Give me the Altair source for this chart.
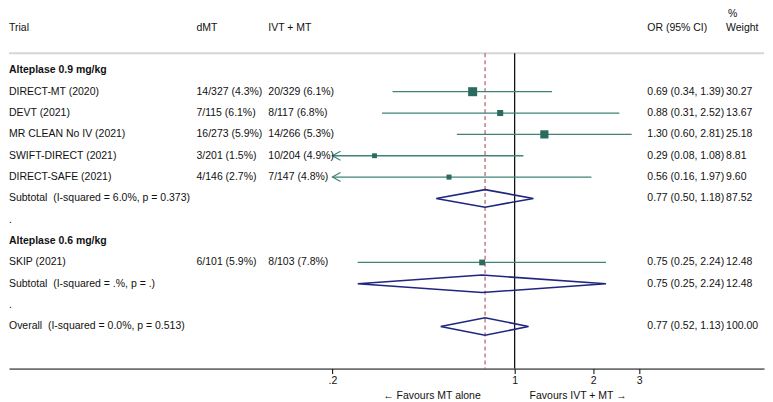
import altair as alt
import pandas as pd

# ---------------- data ----------------
trials = ["DIRECT-MT (2020)", "DEVT (2021)", "MR CLEAN No IV (2021)",
          "SWIFT-DIRECT (2021)", "DIRECT-SAFE (2021)", "SKIP (2021)"]
trial_rows = [1, 2, 3, 4, 5, 9]
dmt_events = ["14/327 (4.3%)", "7/115 (6.1%)", "16/273 (5.9%)",
              "3/201 (1.5%)", "4/146 (2.7%)", "6/101 (5.9%)"]
ivt_events = ["20/329 (6.1%)", "8/117 (6.8%)", "14/266 (5.3%)",
              "10/204 (4.9%)", "7/147 (4.8%)", "8/103 (7.8%)"]
or_est = [0.69, 0.88, 1.30, 0.29, 0.56, 0.75]
or_low = [0.34, 0.31, 0.60, 0.08, 0.16, 0.25]
or_high = [1.39, 2.52, 2.81, 1.08, 1.97, 2.24]
weights = [30.27, 13.67, 25.18, 8.81, 9.60, 12.48]

pooled_labels = ["Subtotal\u00a0 (I-squared = 6.0%, p = 0.373)",
                 "Subtotal\u00a0 (I-squared = .%, p = .)",
                 "Overall\u00a0 (I-squared = 0.0%, p = 0.513)"]
pooled_rows = [6, 10, 12]
pooled_est = [0.77, 0.75, 0.77]
pooled_low = [0.50, 0.25, 0.52]
pooled_high = [1.18, 2.24, 1.13]
pooled_weights = [87.52, 12.48, 100.00]

group_labels = ["Alteplase 0.9 mg/kg", "Alteplase 0.6 mg/kg"]
group_rows = [0, 8]
spacer_rows = [7, 11]

header_labels = ["Trial", "dMT", "IVT + MT", "OR (95% CI)", "Weight"]
header_pct = "%"
overall_or = 0.77
null_or = 1
tick_values = [0.2, 1, 2, 3]
tick_labels = [".2", "1", "2", "3"]
axis_min = 0.2
favour_left = "\u2190 Favours MT alone"
favour_right = "Favours IVT + MT \u2192"

# ---------------- layout / style ----------------
W, H = 757, 361
ROW0 = 62.0        # px of row 0 inside plot
ROW_H = 21.4
X1_PX = 507.0      # px of OR = 1
DECADE = 261.4     # px per decade
FONT = "Liberation Sans"
FS = 10.5
TXT = "#111111"
TEAL_LINE = "#3f8276"
TEAL_BOX = "#2b6a5e"
NAVY = "#1f2680"
DASH = "#a03e48"
col_px = [0, 188, 260, 640, 719]

x_domain = [10 ** (-X1_PX / DECADE), 10 ** ((W - X1_PX) / DECADE)]
y_top = -ROW0 / ROW_H
y_bot = (H - ROW0) / ROW_H
sep_row = -0.8
hdr_row = -2.0
pct_row = -2.63

xs = alt.Scale(type="log", domain=x_domain, nice=False, zero=False)
ys = alt.Scale(domain=[y_top, y_bot], reverse=True, nice=False, zero=False)

label_expr = " : ".join(
    f"datum.value == {v} ? '{l}'" for v, l in zip(tick_values, tick_labels)
) + " : datum.label"
x_axis = alt.Axis(values=tick_values, labelExpr=label_expr, tickSize=5,
                  domainColor="black", tickColor="black", labelColor=TXT,
                  labelFont=FONT, labelFontSize=FS, labelPadding=2,
                  grid=False, title=None, domainWidth=1, tickWidth=1)


def xq(field):
    return alt.X(field, type="quantitative", scale=xs, axis=x_axis, title=None)


def yq(field):
    return alt.Y(field, type="quantitative", scale=ys, axis=None, title=None)


# ---------------- frames ----------------
study = pd.DataFrame({
    "row": trial_rows, "trial": trials, "dmt": dmt_events, "ivt": ivt_events,
    "est": or_est, "lo": or_low, "hi": or_high, "w": weights,
})
study["lo_draw"] = study["lo"].clip(lower=axis_min)
study["clipped"] = study["lo"] < axis_min
study["or_txt"] = [f"{e:.2f} ({l:.2f}, {h:.2f})" for e, l, h in zip(or_est, or_low, or_high)]
study["w_txt"] = [f"{w:.2f}" for w in weights]

pooled = pd.DataFrame({
    "row": pooled_rows, "label": pooled_labels, "est": pooled_est,
    "lo": pooled_low, "hi": pooled_high, "w": pooled_weights,
})
pooled["or_txt"] = [f"{e:.2f} ({l:.2f}, {h:.2f})" for e, l, h in zip(pooled_est, pooled_low, pooled_high)]
pooled["w_txt"] = [f"{w:.2f}" for w in pooled_weights]

dia_pts = []
for i, r in pooled.iterrows():
    for k, (xv, dy) in enumerate([(r.lo, 0), (r.est, -0.41), (r.hi, 0), (r.est, 0.41), (r.lo, 0)]):
        dia_pts.append({"grp": i, "k": k, "x": xv, "y": r.row + dy})
diamonds = pd.DataFrame(dia_pts)

groups = pd.DataFrame({"row": group_rows, "label": group_labels})
spacers = pd.DataFrame({"row": spacer_rows, "label": ["."] * len(spacer_rows)})

vlines = pd.DataFrame({"x": [null_or], "y": [sep_row], "y2": [y_bot]})
dline = pd.DataFrame({"x": [overall_or], "y": [sep_row], "y2": [y_bot]})
sep = pd.DataFrame({"y": [sep_row]})

# ---------------- layers ----------------
layers = []

layers.append(alt.Chart(sep).mark_rule(color="#d6d6d6", strokeWidth=2).encode(
    y=yq("y"), x=alt.value(0), x2=alt.value(W)))

layers.append(alt.Chart(dline).mark_rule(color=DASH, strokeWidth=1, strokeDash=[4, 3]).encode(
    x=xq("x"), y=yq("y"), y2="y2"))

layers.append(alt.Chart(vlines).mark_rule(color="black", strokeWidth=1.2).encode(
    x=xq("x"), y=yq("y"), y2="y2"))

layers.append(alt.Chart(study).mark_rule(color=TEAL_LINE, strokeWidth=1.3).encode(
    x=xq("lo_draw"), x2="hi", y=yq("row")))

layers.append(alt.Chart(study).transform_filter("datum.clipped").mark_point(
    shape="M1.8,-1L0,0L1.8,1", size=81, filled=False, color=TEAL_LINE,
    strokeWidth=1.2, opacity=1).encode(x=xq("lo_draw"), y=yq("row")))

layers.append(alt.Chart(study).mark_square(color=TEAL_BOX, opacity=1).encode(
    x=xq("est"), y=yq("row"),
    size=alt.Size("w:Q", scale=alt.Scale(domain=[0, 100], range=[0, 268]), legend=None)))

layers.append(alt.Chart(diamonds).mark_line(color=NAVY, strokeWidth=1.6).encode(
    x=xq("x"), y=yq("y"), detail="grp:N", order="k:Q"))


def text_layer(df, field, px, bold=False, align="left", yfield="row"):
    return alt.Chart(df).mark_text(
        align=align, baseline="middle", font=FONT, fontSize=FS, color=TXT,
        fontWeight="bold" if bold else "normal").encode(
        x=alt.value(px), y=yq(yfield), text=f"{field}:N")


layers.append(text_layer(study, "trial", col_px[0]))
layers.append(text_layer(study, "dmt", col_px[1]))
layers.append(text_layer(study, "ivt", col_px[2]))
layers.append(text_layer(study, "or_txt", col_px[3]))
layers.append(text_layer(study, "w_txt", col_px[4]))
layers.append(text_layer(pooled, "label", col_px[0]))
layers.append(text_layer(pooled, "or_txt", col_px[3]))
layers.append(text_layer(pooled, "w_txt", col_px[4]))
layers.append(text_layer(groups, "label", col_px[0], bold=True))
layers.append(text_layer(spacers, "label", col_px[0]))

for lab, px in zip(header_labels, col_px):
    layers.append(text_layer(pd.DataFrame({"row": [hdr_row], "label": [lab]}), "label", px))
layers.append(text_layer(pd.DataFrame({"row": [pct_row], "label": [header_pct]}), "label", col_px[4] + 2))

fav = pd.DataFrame({"l": [favour_left], "r": [favour_right]})
layers.append(alt.Chart(fav).mark_text(align="right", baseline="middle", font=FONT,
                                       fontSize=FS, color=TXT).encode(
    x=alt.value(473), y=alt.value(389), text="l:N"))
layers.append(alt.Chart(fav).mark_text(align="left", baseline="middle", font=FONT,
                                       fontSize=FS, color=TXT).encode(
    x=alt.value(522), y=alt.value(389), text="r:N"))

chart = alt.layer(*layers).properties(
    width=W, height=H, padding=0, background="white"
).configure_view(strokeWidth=0, stroke="transparent")

chart.save("out.html", embed_options={"renderer": "svg", "actions": False})
